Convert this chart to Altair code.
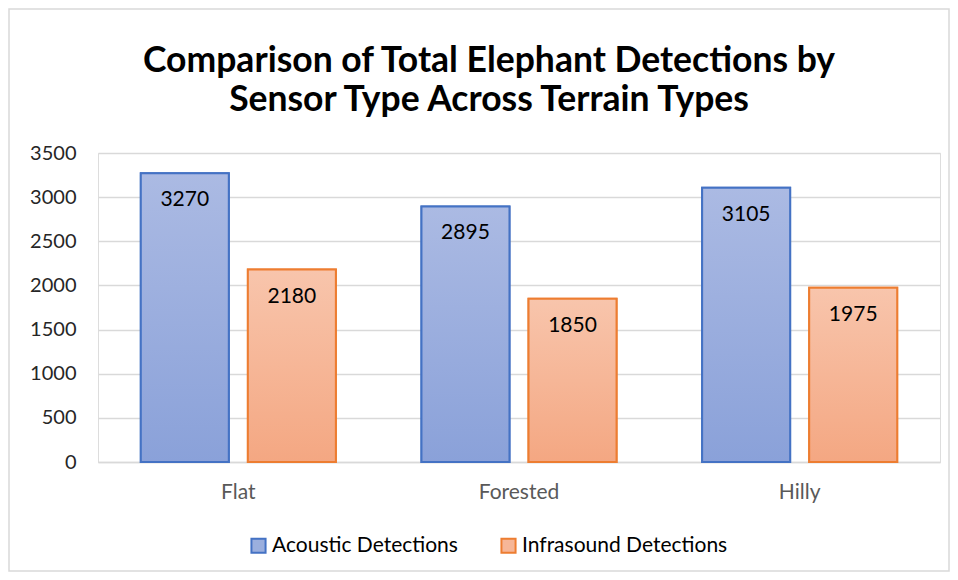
import altair as alt
import pandas as pd

terrains = ["Flat", "Forested", "Hilly"]
series = ["Acoustic Detections", "Infrasound Detections"]
acoustic = [3270, 2895, 3105]
infrasound = [2180, 1850, 1975]
y_ticks = [0, 500, 1000, 1500, 2000, 2500, 3000, 3500]
title_lines = ["Comparison of Total Elephant Detections by", "Sensor Type Across Terrain Types"]

rows = []
for t, a, i in zip(terrains, acoustic, infrasound):
    rows.append({"Terrain": t, "Sensor": series[0], "Detections": a})
    rows.append({"Terrain": t, "Sensor": series[1], "Detections": i})
df = pd.DataFrame(rows)

FONT = "Lato"
BLUE_EDGE = "#4472c4"
ORANGE_EDGE = "#ed7d31"

blue_grad = {"gradient": "linear", "x1": 0, "y1": 0, "x2": 0, "y2": 1,
             "stops": [{"offset": 0, "color": "#abbae3"}, {"offset": 1, "color": "#8aa1d9"}]}
orange_grad = {"gradient": "linear", "x1": 0, "y1": 0, "x2": 0, "y2": 1,
               "stops": [{"offset": 0, "color": "#f8c5ac"}, {"offset": 1, "color": "#f4a782"}]}

x_enc = alt.X("Terrain:N", sort=terrains,
              scale=alt.Scale(domain=terrains, paddingInner=0.305, paddingOuter=0.1525),
              axis=alt.Axis(title=None, labelAngle=0, labelFont=FONT, labelFontSize=21,
                            labelColor="#595959", labelPadding=19, ticks=False,
                            domainColor="#d9d9d9", domainWidth=1.5, grid=False))
xoff_enc = alt.XOffset("Sensor:N", sort=series,
                       scale=alt.Scale(domain=series, paddingInner=0.178, paddingOuter=0))
y_enc = alt.Y("Detections:Q", scale=alt.Scale(domain=[0, 3500], nice=False),
              axis=alt.Axis(values=y_ticks, format="d", title=None, domain=False, ticks=False,
                            labelFont=FONT, labelFontSize=20, labelColor="#262626",
                            labelPadding=22, gridColor="#d9d9d9", gridWidth=1.5))

legend = alt.Legend(title=None, orient="none", legendX=150, legendY=382,
                    direction="horizontal", symbolType="square", symbolSize=200,
                    symbolStrokeWidth=2, labelFont=FONT, labelFontSize=21, labelLimit=0,
                    labelColor="#000000", columnPadding=39, labelOffset=3)

base = alt.Chart(df)

legend_bars = base.mark_bar(strokeWidth=2).encode(
    x=x_enc, xOffset=xoff_enc, y=y_enc,
    fill=alt.Fill("Sensor:N", scale=alt.Scale(domain=series, range=["#9bafde", "#f6b697"]), legend=legend),
    stroke=alt.Stroke("Sensor:N", scale=alt.Scale(domain=series, range=[BLUE_EDGE, ORANGE_EDGE]), legend=legend),
)

grad_bars = base.mark_bar(strokeWidth=2).encode(
    x=x_enc, xOffset=xoff_enc, y=y_enc,
    fill=alt.condition(alt.datum.Sensor == series[0], alt.value(blue_grad), alt.value(orange_grad)),
    stroke=alt.condition(alt.datum.Sensor == series[0], alt.value(BLUE_EDGE), alt.value(ORANGE_EDGE)),
)

labels = base.mark_text(dy=27, fontSize=21, font=FONT, color="#000000", baseline="middle").encode(
    x=x_enc, xOffset=xoff_enc, y=y_enc, text=alt.Text("Detections:Q"),
)

single = alt.Data(values=[{}])

border = alt.Chart(single).mark_rect(filled=False, stroke="#d9d9d9", strokeWidth=1.5).encode(
    x=alt.value(-89), x2=alt.value(851), y=alt.value(-144), y2=alt.value(418),
)

title = alt.Chart(single).mark_text(
    font=FONT, fontSize=35.5, fontWeight="bold", color="#000000",
    align="center", baseline="alphabetic", lineHeight=39,
).encode(x=alt.value(391), y=alt.value(-81), text=alt.value(title_lines))

chart = alt.layer(border, title, legend_bars, grad_bars, labels).properties(
    width=842, height=309,
    padding={"left": 90, "top": 145, "right": 10, "bottom": 110},
    autosize=alt.AutoSizeParams(type="none"),
).configure_view(stroke=None).configure(background="white")

chart.save("out.html", embed_options={"renderer": "svg", "actions": False})
